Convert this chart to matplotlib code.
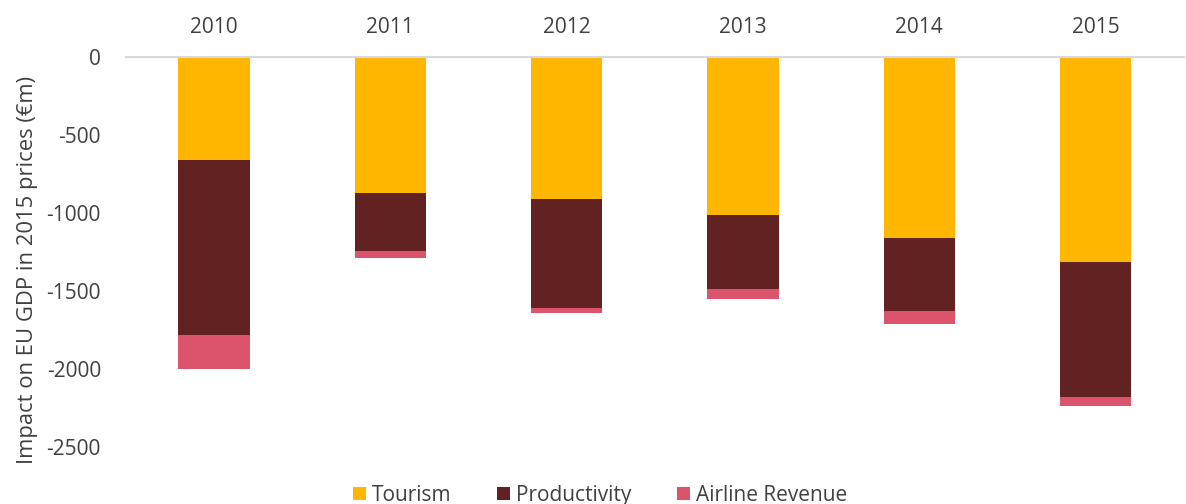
import numpy as np
import matplotlib.pyplot as plt

plt.rcParams['font.family'] = ['Open Sans', 'DejaVu Sans']

years = ['2010', '2011', '2012', '2013', '2014', '2015']
tourism = [-660, -871, -909, -1016, -1159, -1316]
productivity = [-1123, -375, -701, -473, -468, -863]
airline = [-217, -43, -34, -62, -85, -55]

col_tour = '#FFB600'
col_prod = '#622222'
col_air = '#DC546C'
txt = '#404040'

x = np.arange(len(years))
tour = np.array(tourism)
prod = np.array(productivity)
air = np.array(airline)

fig = plt.figure(figsize=(11.86, 5.04), dpi=100)
ax = fig.add_axes([0.1062, 0.1131, 0.8918, 0.7738])

w = 0.405
ax.bar(x, tour, w, color=col_tour, label='Tourism')
ax.bar(x, prod, w, bottom=tour, color=col_prod, label='Productivity')
ax.bar(x, air, w, bottom=tour + prod, color=col_air, label='Airline Revenue')

ax.set_xlim(-0.5, len(years) - 0.5)
ax.set_ylim(-2500, 0)
ax.set_yticks([0, -500, -1000, -1500, -2000, -2500])
ax.set_yticklabels(['0', '-500', '-1000', '-1500', '-2000', '-2500'])
ax.set_xticks(x)
ax.set_xticklabels(years)
ax.xaxis.tick_top()

for s in ['left', 'right', 'bottom']:
    ax.spines[s].set_visible(False)
ax.spines['top'].set_color('#D9D9D9')
ax.spines['top'].set_linewidth(1.5)
ax.set_axisbelow(False)

ax.tick_params(axis='x', length=0, pad=14, labelsize=15, labelcolor=txt)
ax.tick_params(axis='y', length=0, pad=18, labelsize=15, labelcolor=txt)

ax.set_ylabel('Impact on EU GDP in 2015 prices (\u20acm)', fontsize=15.8,
              color=txt)
ax.yaxis.set_label_coords(-0.083, 0.454)

fig.legend(loc='center', bbox_to_anchor=(0.506, 0.017), ncol=3, frameon=False,
           fontsize=15, labelcolor=txt, handlelength=0.6, handleheight=0.6,
           handletextpad=0.3, columnspacing=2.2)

fig.savefig('out.png', dpi=100)
